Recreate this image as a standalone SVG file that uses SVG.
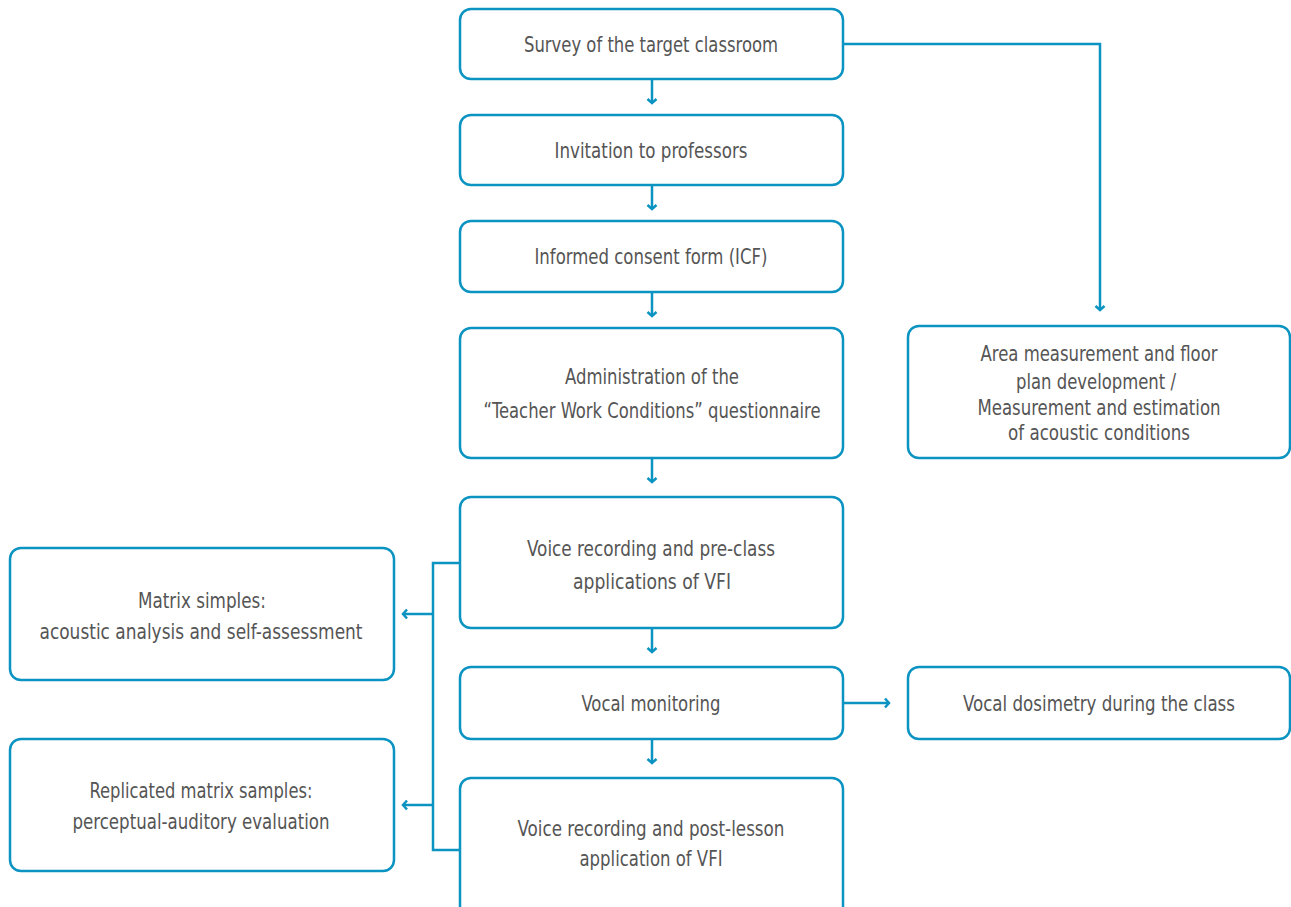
<svg xmlns="http://www.w3.org/2000/svg" width="1291" height="907" viewBox="0 0 1291 907">
<defs>
<style>
.box{fill:#fff;stroke:#0b93c1;stroke-width:2.5}
.t{font-family:"DejaVu Sans Condensed","DejaVu Sans",sans-serif;font-stretch:condensed;font-size:21px;fill:#555;text-anchor:middle}
.c{fill:none;stroke:#0b93c1;stroke-width:2.5}
</style>
<marker id="ah" markerUnits="userSpaceOnUse" markerWidth="12" markerHeight="12" viewBox="-6 -6 12 12" refX="0" refY="0" orient="auto">
<path d="M-4,-4.5 L0,0 L-4,4.5" fill="none" stroke="#0b93c1" stroke-width="2.5"/>
</marker>
</defs>
<rect width="1291" height="907" fill="#fff"/>
<g id="connectors">
<path class="c" d="M652,80 V103" marker-end="url(#ah)"/>
<path class="c" d="M652,186 V209" marker-end="url(#ah)"/>
<path class="c" d="M652,293 V316" marker-end="url(#ah)"/>
<path class="c" d="M652,459 V482" marker-end="url(#ah)"/>
<path class="c" d="M652,629 V652" marker-end="url(#ah)"/>
<path class="c" d="M652,740 V763" marker-end="url(#ah)"/>
<path class="c" d="M844,44 H1100 V310" marker-end="url(#ah)"/>
<path class="c" d="M844,703 H889" marker-end="url(#ah)"/>
<path class="c" d="M460,563 H433 V850 H460"/>
<path class="c" d="M433,614 H403" marker-end="url(#ah)"/>
<path class="c" d="M433,805 H403" marker-end="url(#ah)"/>
</g>
<g id="n1"><rect class="box" x="460" y="9" width="383" height="70" rx="11"/>
<text class="t" x="651" y="52" textLength="254" lengthAdjust="spacingAndGlyphs">Survey of the target classroom</text></g>
<g id="n2"><rect class="box" x="460" y="115" width="383" height="70" rx="11"/>
<text class="t" x="651" y="158" textLength="193" lengthAdjust="spacingAndGlyphs">Invitation to professors</text></g>
<g id="n3"><rect class="box" x="460" y="221" width="383" height="71" rx="11"/>
<text class="t" x="651" y="264" textLength="233" lengthAdjust="spacingAndGlyphs">Informed consent form (ICF)</text></g>
<g id="n4"><rect class="box" x="460" y="328" width="383" height="130" rx="11"/>
<text class="t" x="652" y="384" textLength="174" lengthAdjust="spacingAndGlyphs">Administration of the</text>
<text class="t" x="652" y="418" textLength="337" lengthAdjust="spacingAndGlyphs">“Teacher Work Conditions” questionnaire</text></g>
<g id="n5"><rect class="box" x="460" y="497" width="383" height="131" rx="11"/>
<text class="t" x="651" y="556" textLength="248" lengthAdjust="spacingAndGlyphs">Voice recording and pre-class</text>
<text class="t" x="652" y="589" textLength="158" lengthAdjust="spacingAndGlyphs">applications of VFI</text></g>
<g id="n6"><rect class="box" x="460" y="667" width="383" height="72" rx="11"/>
<text class="t" x="651" y="711" textLength="139" lengthAdjust="spacingAndGlyphs">Vocal monitoring</text></g>
<g id="n7"><rect class="box" x="460" y="778" width="383" height="140" rx="11"/>
<text class="t" x="651" y="836" textLength="267" lengthAdjust="spacingAndGlyphs">Voice recording and post-lesson</text>
<text class="t" x="651" y="866" textLength="143" lengthAdjust="spacingAndGlyphs">application of VFI</text></g>
<g id="nA"><rect class="box" x="908" y="326" width="382" height="132" rx="11"/>
<text class="t" x="1099" y="361" textLength="237" lengthAdjust="spacingAndGlyphs">Area measurement and floor</text>
<text class="t" x="1096" y="389" textLength="160" lengthAdjust="spacingAndGlyphs">plan development /</text>
<text class="t" x="1099" y="415" textLength="243" lengthAdjust="spacingAndGlyphs">Measurement and estimation</text>
<text class="t" x="1099" y="440" textLength="182" lengthAdjust="spacingAndGlyphs">of acoustic conditions</text></g>
<g id="nB"><rect class="box" x="908" y="667" width="382" height="72" rx="11"/>
<text class="t" x="1099" y="711" textLength="272" lengthAdjust="spacingAndGlyphs">Vocal dosimetry during the class</text></g>
<g id="nL1"><rect class="box" x="10" y="548" width="384" height="132" rx="11"/>
<text class="t" x="202" y="608" textLength="128" lengthAdjust="spacingAndGlyphs">Matrix simples:</text>
<text class="t" x="201" y="639" textLength="323" lengthAdjust="spacingAndGlyphs">acoustic analysis and self-assessment</text></g>
<g id="nL2"><rect class="box" x="10" y="739" width="384" height="132" rx="11"/>
<text class="t" x="201" y="798" textLength="223" lengthAdjust="spacingAndGlyphs">Replicated matrix samples:</text>
<text class="t" x="201" y="829" textLength="257" lengthAdjust="spacingAndGlyphs">perceptual-auditory evaluation</text></g>
</svg>
